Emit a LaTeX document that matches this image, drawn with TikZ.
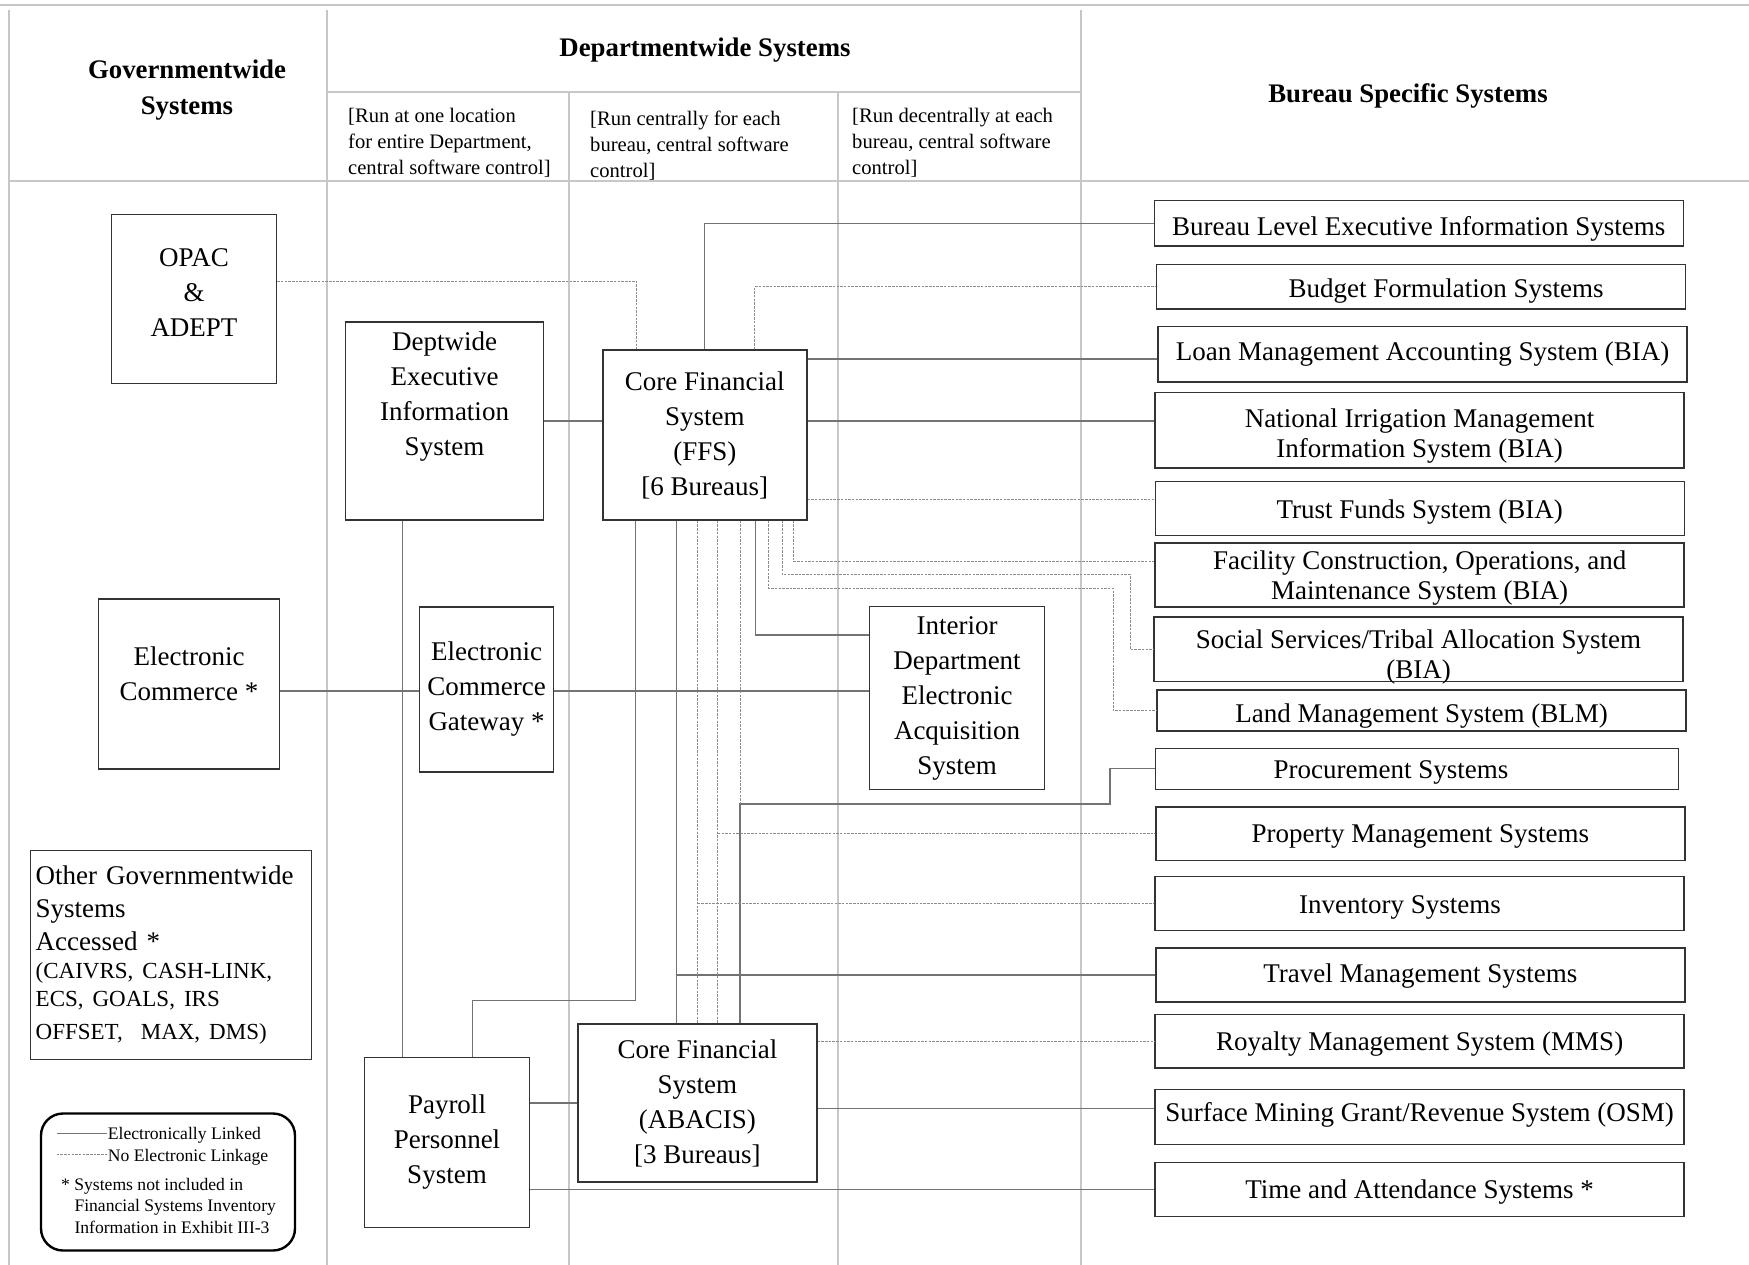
\documentclass[tikz,border=0pt]{standalone}
\usepackage{fontspec}
\setmainfont{Liberation Serif}
\usepackage{tikz}

\begin{document}
\begin{tikzpicture}[x=1pt, y=-1pt,
  sys/.style = {draw=black!80, line width=1.4pt, align=center, inner sep=2pt, font=\fontsize{27}{35}\selectfont},
  bsys/.style = {sys, minimum width=529pt, font=\fontsize{27}{30}\selectfont},
  bline/.style = {bsys, text height=#1, text depth=0pt},
  head/.style = {align=center, inner sep=0pt, font=\fontsize{26.8}{36.6}\selectfont\bfseries},
  note/.style = {align=left, inner sep=0pt, anchor=west, font=\fontsize{20.6}{26}\selectfont},
  key/.style = {inner sep=1pt, anchor=base west, font=\fontsize{17.6}{21.7}\selectfont},
  link/.style = {draw=black!55, line width=1.2pt},
  nolink/.style = {draw=black!45, line width=1pt, dash pattern=on 2.5pt off 1.2pt},
  grid/.style = {draw=black!22, line width=2pt}]

\useasboundingbox (0,0) rectangle (1749,1265);

% column frame
\draw[grid] (0,5) -- (1749,5);
\draw[grid] (9,181) -- (1749,181);
\draw[grid] (327,92) -- (1081,92);
\foreach \x in {9,327,1081} \draw[grid] (\x,10) -- (\x,1265);
\foreach \x in {569,838} \draw[grid] (\x,92) -- (\x,1265);

\node[head] (gov) at (187,90) {Governmentwide\\Systems};
\node[head] (dep) at (705,50) {Departmentwide Systems};
\node[head] (bss) at (1408,96) {Bureau Specific Systems};
\node[note] (run1) at (348,143) {[Run at one location\\for entire Department,\\central software control]};
\node[note] (run2) at (590,145.5) {[Run centrally for each\\bureau, central software\\control]};
\node[note] (run3) at (852,143) {[Run decentrally at each\\bureau, central software\\control]};

% governmentwide and departmentwide systems
\node[sys, minimum width=165pt, minimum height=169pt] (opac) at (194,299) {OPAC\\\&\\ADEPT\\[-23pt]\mbox{}};
\node[sys, minimum width=181pt, minimum height=170pt] (ec) at (189,684) {Electronic\\Commerce *\\[-15pt]\mbox{}};
\node[sys, align=left, text width=270pt, inner xsep=5.5pt, minimum height=209pt, font=\fontsize{27}{33}\selectfont] (ogs) at (170.7,954.7)
  {Other Governmentwide\\Systems\\Accessed *\par\fontsize{23}{28}\selectfont (CAIVRS, CASH-LINK,\\ECS, GOALS, IRS\\OFFSET,\ \ MAX, DMS)};
\node[sys, minimum width=198pt, minimum height=198pt] (dept) at (444.5,421) {Deptwide\\Executive\\Information\\System\\[20pt]\mbox{}};
\node[sys, minimum width=134pt, minimum height=165pt] (gw) at (486.6,689.4) {Electronic\\Commerce\\Gateway *};
\node[sys, minimum width=165pt, minimum height=170pt] (pay) at (447,1142.5) {Payroll\\Personnel\\System};
\node[sys, minimum width=204pt, minimum height=170pt] (ffs) at (704.8,435) {Core Financial\\System\\(FFS)\\{[6 Bureaus]}};
\node[sys, minimum width=174.5pt, minimum height=182.6pt] (ideas) at (957,698) {Interior\\Department\\Electronic\\Acquisition\\System};
\node[sys, minimum width=239pt, minimum height=158pt] (abacis) at (697.4,1103) {Core Financial\\System\\(ABACIS)\\{[3 Bureaus]}};

% bureau specific systems
\node[bline=24.8pt, minimum height=45.3pt] (blei) at (1418.7,223.4) {Bureau Level Executive Information Systems};
\node[bline=22.6pt, minimum height=44.7pt] (budget) at (1421,286.7) {\hspace*{50pt}Budget Formulation Systems};
\node[bline=11.4pt, minimum height=55.3pt] (loan) at (1422.6,354.4) {Loan Management Accounting System (BIA)};
\node[bsys, minimum height=75.7pt] (nims) at (1419.6,430.2) {\rule{0pt}{30pt}National Irrigation Management\\Information System (BIA)};
\node[bline=20.2pt, minimum height=53.6pt] (trust) at (1419.7,508.5) {Trust Funds System (BIA)};
\node[bsys, minimum height=62pt] (facil) at (1419.6,575) {\rule{0pt}{24pt}Facility Construction, Operations, and\\Maintenance System (BIA)};
\node[bsys, inner ysep=-3.5pt, minimum height=64.5pt] (social) at (1418.5,649.3) {\rule{0pt}{35pt}Social Services/Tribal Allocation System\\(BIA)};
\node[bline=24.8pt, minimum height=41pt] (land) at (1421.6,710.5) {Land Management System (BLM)};
\node[bline=20.2pt, minimum width=523pt, minimum height=41pt] (proc) at (1416.9,768.8) {Procurement Systems\hspace*{52pt}};
\node[bline=18pt, minimum height=53.7pt] (prop) at (1420.4,833.8) {Property Management Systems};
\node[bline=20.2pt, minimum height=53.8pt] (inv) at (1419.6,903.5) {Inventory Systems\hspace*{39pt}};
\node[bline=15.8pt, minimum height=54.1pt] (travel) at (1420.4,975) {Travel Management Systems};
\node[bline=18pt, minimum height=53.7pt] (royalty) at (1419.6,1041.2) {Royalty Management System (MMS)};
\node[bline=9.2pt, minimum height=54.9pt] (mining) at (1419.6,1116.8) {Surface Mining Grant/Revenue System (OSM)};
\node[bline=18pt, minimum height=53.7pt] (time) at (1419.6,1189.4) {Time and Attendance Systems *};

\coordinate (procbend) at (1110,804);
\coordinate (landbend) at (1113,588.3);
\coordinate (socbend) at (1130,574.3);

% electronically linked
\draw[link] (dept.east) -- (dept.east -| ffs.west);
\draw[link] (dept.east -| ffs.east) -- (dept.east -| nims.west);
\draw[link] (ffs.north) |- (blei.west);
\draw[link] ([yshift=-4.6pt]loan.west -| ffs.east) -- ([yshift=-4.6pt]loan.west);
\draw[link] ([xshift=50.5pt]ffs.south) |- ([yshift=63pt]ideas.west);
\draw[link] ([xshift=-69pt]ffs.south) -- ++(0,479.5) -| ([xshift=25.5pt]pay.north);
\draw[link] ([xshift=-28.3pt]ffs.south) -- ([xshift=-28.3pt]ffs.south |- abacis.north);
\draw[link] ([xshift=-28.3pt]ffs.south |- travel.west) -- (travel.west);
\draw[link] ([xshift=35.2pt]ffs.south |- abacis.north) |- (procbend) |- (proc.west);
\draw[link] ([xshift=-42pt]dept.south) -- ([xshift=-42pt]dept.south |- pay.north);
\draw[link] ([yshift=-7pt]ec.east) -- ([yshift=-7pt]ec.east -| gw.west);
\draw[link] ([yshift=-7pt]ec.east -| gw.east) -- ([yshift=-7pt]ec.east -| ideas.west);
\draw[link] (abacis.west -| pay.east) -- (abacis.west);
\draw[link] (time.west -| pay.east) -- (time.west);
\draw[link] ([yshift=8pt]mining.west -| abacis.east) -- ([yshift=8pt]mining.west);

% no electronic linkage
\draw[nolink] ([yshift=17.6pt]opac.east) -| ([xshift=-68pt]ffs.north);
\draw[nolink] ([xshift=50pt]ffs.north) |- (budget.west);
\draw[nolink] ([yshift=9pt]trust.west -| ffs.east) -- ([yshift=9pt]trust.west);
\draw[nolink] ([xshift=88.2pt]ffs.south) |- ([yshift=14pt]facil.west);
\draw[nolink] ([xshift=77.2pt]ffs.south) |- (socbend) |- (social.west);
\draw[nolink] ([xshift=63.7pt]ffs.south) |- (landbend) |- (land.west);
\draw[nolink] ([xshift=35.2pt]ffs.south) -- ([xshift=35.2pt]ffs.south |- procbend);
\draw[nolink] ([xshift=13pt]ffs.south) -- ([xshift=13pt]ffs.south |- abacis.north);
\draw[nolink] ([xshift=13pt]ffs.south |- prop.west) -- (prop.west);
\draw[nolink] ([xshift=-7.2pt]ffs.south) -- ([xshift=-7.2pt]ffs.south |- abacis.north);
\draw[nolink] ([xshift=-7.2pt]ffs.south |- inv.west) -- (inv.west);
\draw[nolink] (royalty.west -| abacis.east) -- (royalty.west);

% legend
\node[draw=black, line width=2.4pt, rounded corners=22pt, minimum width=254pt, minimum height=137pt] (legend) at (168,1182) {};
\node[key] (kl1) at (106.7,1139) {Electronically Linked};
\node[key] (kl2) at (106.7,1161) {No Electronic Linkage};
\node[key] (kl3) at (60,1190) {* Systems not included in};
\node[key] (kl4) at (73.3,1211.7) {Financial Systems Inventory};
\node[key] (kl5) at (73.3,1233.3) {Information in Exhibit III-3};
\coordinate (ks1) at (56.7,1133.3);
\coordinate (ks2) at (56.7,1154.3);
\draw[link] (ks1) -- (ks1 -| kl1.west);
\draw[nolink] (ks2) -- (ks2 -| kl2.west);
\end{tikzpicture}
\end{document}
